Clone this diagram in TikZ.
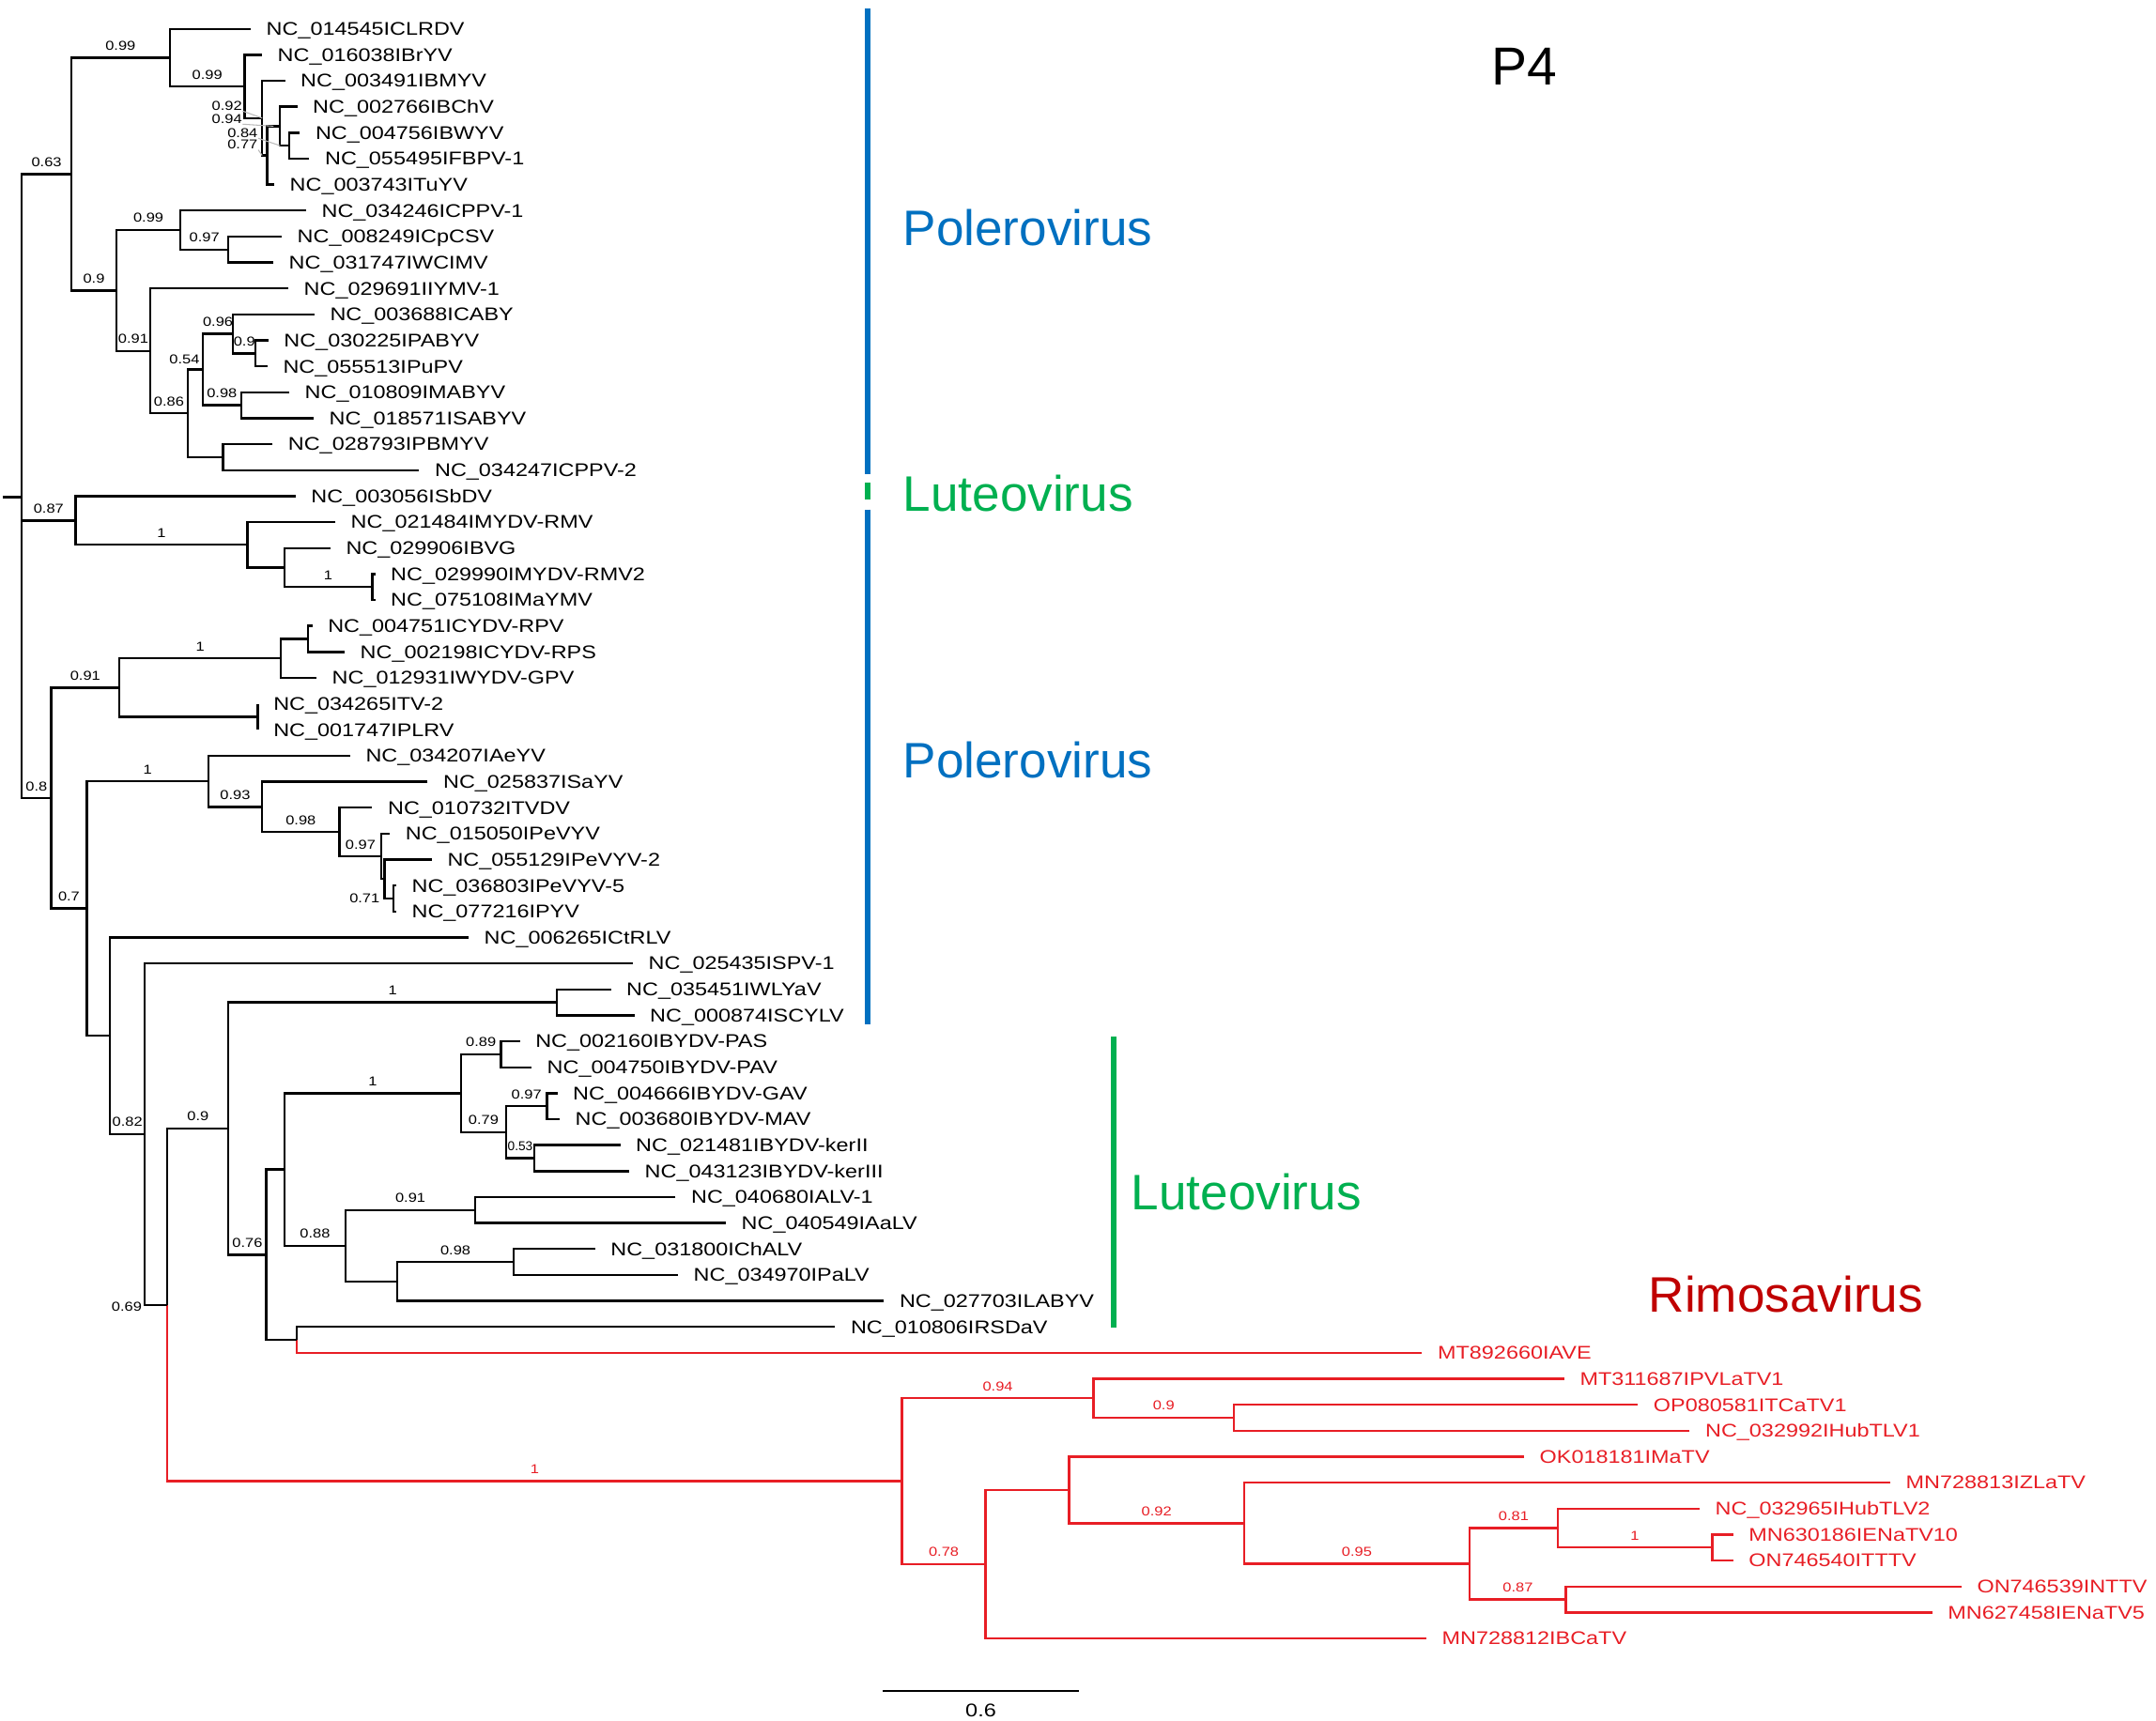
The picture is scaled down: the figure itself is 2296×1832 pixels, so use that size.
\documentclass[tikz,border=0pt]{standalone}
\usepackage{fontspec}
\usetikzlibrary{calc}
\newfontfamily\leaffont[FakeStretch=1.2]{Liberation Sans}
\newfontfamily\plainfont{Liberation Sans}
\definecolor{pblue}{RGB}{0,112,192}
\definecolor{lgreen}{RGB}{0,176,80}
\definecolor{rimo}{RGB}{192,0,0}
\definecolor{tred}{RGB}{232,30,37}
\tikzset{
  tree/.style={line width=0.68pt, line join=miter},
  redtree/.style={tree, draw=tred},
  leaf/.style={anchor=base west, inner sep=0pt, xshift=0.16cm, yshift=-1.95pt,
    font={\leaffont\fontsize{5.55pt}{6pt}\selectfont}},
  rleaf/.style={leaf, text=tred},
  blab/.style={anchor=base, inner sep=0pt, yshift=0.08cm,
    font={\leaffont\fontsize{3.9pt}{4.5pt}\selectfont}},
  rblab/.style={blab, text=tred},
  blabc/.style={anchor=center, inner sep=0pt,
    font={\leaffont\fontsize{3.9pt}{4.5pt}\selectfont}},
  leader/.style={draw=gray!55, line width=0.3pt},
  bar/.style={line width=1.7pt},
  genus/.style={anchor=base west, inner sep=0pt, font={\plainfont\fontsize{15.1pt}{17pt}\selectfont}},
}
\newcommand\leaf[5][leaf]{\coordinate (#2) at (#3,#4); \node[#1] (t#2) at (#2) {#5};}
\newcommand\inode[4]{\coordinate (#1m) at ($(#3)!0.5!(#4)$); \coordinate (#1) at (#2,0 |- #1m);}
\newcommand\kids[4][tree]{\draw[#1] (#3) -| (#2); \draw[#1] (#4) -| (#2);}
\newcommand\blab[4][blab]{\node[#1] (lb#2) at ($(#2)!0.5!(#3 |- #2)$) {#4};}
\begin{document}
\begin{tikzpicture}[x=0.01cm, y=-0.01cm]
\fill[white] (0,0) rectangle (2296,1832);
\useasboundingbox (0,0) rectangle (2296,1832);
% ---------- leaves ----------
\leaf{l1}{267}{30.7}{NC\_014545ICLRDV}
\leaf{l2}{279}{58.35}{NC\_016038IBrYV}
\leaf{l3}{303.5}{86}{NC\_003491IBMYV}
\leaf{l4}{316.5}{113.65}{NC\_002766IBChV}
\leaf{l5}{319.3}{141.3}{NC\_004756IBWYV}
\leaf{l6}{329.4}{168.95}{NC\_055495IFBPV-1}
\leaf{l7}{292}{196.6}{NC\_003743ITuYV}
\leaf{l8}{325.9}{224.25}{NC\_034246ICPPV-1}
\leaf{l9}{300}{251.9}{NC\_008249ICpCSV}
\leaf{l10}{291}{279.55}{NC\_031747IWCIMV}
\leaf{l11}{307}{307.2}{NC\_029691IIYMV-1}
\leaf{l12}{334.8}{334.85}{NC\_003688ICABY}
\leaf{l13}{285.7}{362.5}{NC\_030225IPABYV}
\leaf{l14}{284.8}{390.15}{NC\_055513IPuPV}
\leaf{l15}{308}{417.8}{NC\_010809IMABYV}
\leaf{l16}{334}{445.45}{NC\_018571ISABYV}
\leaf{l17}{290.2}{473.1}{NC\_028793IPBMYV}
\leaf{l18}{446.4}{500.75}{NC\_034247ICPPV-2}
\leaf{l19}{314.7}{528.4}{NC\_003056ISbDV}
\leaf{l20}{357}{556.05}{NC\_021484IMYDV-RMV}
\leaf{l21}{351.8}{583.7}{NC\_029906IBVG}
\leaf{l22}{399.5}{611.35}{NC\_029990IMYDV-RMV2}
\leaf{l23}{399.5}{639}{NC\_075108IMaYMV}
\leaf{l24}{332.6}{666.65}{NC\_004751ICYDV-RPV}
\leaf{l25}{367}{694.3}{NC\_002198ICYDV-RPS}
\leaf{l26}{337}{721.95}{NC\_012931IWYDV-GPV}
\leaf{l27}{274.6}{749.6}{NC\_034265ITV-2}
\leaf{l28}{274.6}{777.25}{NC\_001747IPLRV}
\leaf{l29}{372.8}{804.9}{NC\_034207IAeYV}
\leaf{l30}{455.4}{832.55}{NC\_025837ISaYV}
\leaf{l31}{396.4}{860.2}{NC\_010732ITVDV}
\leaf{l32}{415.2}{887.85}{NC\_015050IPeVYV}
\leaf{l33}{459.8}{915.5}{NC\_055129IPeVYV-2}
\leaf{l34}{421.9}{943.15}{NC\_036803IPeVYV-5}
\leaf{l35}{421.9}{970.8}{NC\_077216IPYV}
\leaf{l36}{499}{998.45}{NC\_006265ICtRLV}
\leaf{l37}{674}{1026.1}{NC\_025435ISPV-1}
\leaf{l38}{650.5}{1053.75}{NC\_035451IWLYaV}
\leaf{l39}{675.5}{1081.4}{NC\_000874ISCYLV}
\leaf{l40}{553.6}{1109.05}{NC\_002160IBYDV-PAS}
\leaf{l41}{566}{1136.7}{NC\_004750IBYDV-PAV}
\leaf{l42}{593.5}{1164.35}{NC\_004666IBYDV-GAV}
\leaf{l43}{596}{1192}{NC\_003680IBYDV-MAV}
\leaf{l44}{660.5}{1219.65}{NC\_021481IBYDV-kerII}
\leaf{l45}{670}{1247.3}{NC\_043123IBYDV-kerIII}
\leaf{l46}{719.4}{1274.95}{NC\_040680IALV-1}
\leaf{l47}{773}{1302.6}{NC\_040549IAaLV}
\leaf{l48}{633.7}{1330.25}{NC\_031800IChALV}
\leaf{l49}{722}{1357.9}{NC\_034970IPaLV}
\leaf{l50}{941.3}{1385.55}{NC\_027703ILABYV}
\leaf{l51}{889.3}{1413.2}{NC\_010806IRSDaV}
\leaf[rleaf]{l52}{1514.4}{1440.85}{MT892660IAVE}
\leaf[rleaf]{l53}{1665.8}{1468.5}{MT311687IPVLaTV1}
\leaf[rleaf]{l54}{1744.2}{1496.15}{OP080581ITCaTV1}
\leaf[rleaf]{l55}{1799.4}{1523.8}{NC\_032992IHubTLV1}
\leaf[rleaf]{l56}{1623}{1551.45}{OK018181IMaTV}
\leaf[rleaf]{l57}{2013}{1579.1}{MN728813IZLaTV}
\leaf[rleaf]{l58}{1810}{1606.75}{NC\_032965IHubTLV2}
\leaf[rleaf]{l59}{1845.7}{1634.4}{MN630186IENaTV10}
\leaf[rleaf]{l60}{1845.7}{1662.05}{ON746540ITTTV}
\leaf[rleaf]{l61}{2088.8}{1689.7}{ON746539INTTV}
\leaf[rleaf]{l62}{2057.6}{1717.35}{MN627458IENaTV5}
\leaf[rleaf]{l63}{1518.9}{1745}{MN728812IBCaTV}
% ---------- internal nodes ----------
\inode{nF}{308.2}{l5}{l6}
\inode{nE}{298.3}{l4}{nF}
\inode{nD}{284.5}{nE}{l7}
\inode{nC}{279.2}{l3}{nD}
\inode{nB}{260.5}{l2}{nC}
\inode{nA}{180.8}{l1}{nB}
\inode{nI}{243.3}{l9}{l10}
\inode{nG}{192}{l8}{nI}
\inode{nO}{272.3}{l13}{l14}
\inode{nM}{248.2}{l12}{nO}
\inode{nN}{256.7}{l15}{l16}
\inode{nK}{216}{nM}{nN}
\inode{nL}{237.5}{l17}{l18}
\inode{nJ}{200}{nK}{nL}
\inode{nH}{159.8}{l11}{nJ}
\inode{nNN}{124.1}{nG}{nH}
\inode{nTop}{75.9}{nA}{nNN}
\inode{nR}{396.4}{l22}{l23}
\inode{nQ}{302.7}{l21}{nR}
\inode{nP}{263.4}{l20}{nQ}
\inode{nMid}{80.4}{l19}{nP}
\inode{nW}{328.1}{l24}{l25}
\inode{nU}{299.1}{nW}{l26}
\inode{nV}{274.6}{l27}{l28}
\inode{nS}{127.2}{nU}{nV}
\inode{nAD}{418.8}{l34}{l35}
\inode{nAC}{409.4}{l33}{nAD}
\inode{nAB}{406.3}{l32}{nAC}
\inode{nAA}{361.6}{l31}{nAB}
\inode{nZ}{279}{l30}{nAA}
\inode{nX}{221.9}{l29}{nZ}
\inode{yA}{592.9}{l38}{l39}
\inode{yC}{533.5}{l40}{l41}
\inode{yE}{582.6}{l42}{l43}
\inode{yF}{569.2}{l44}{l45}
\inode{yD}{538.8}{yE}{yF}
\inode{yB}{491}{yC}{yD}
\inode{yG}{505.8}{l46}{l47}
\inode{yI}{546.9}{l48}{l49}
\inode{yH}{423.2}{yI}{l50}
\inode{yJ}{368.3}{yG}{yH}
\inode{yK}{302.7}{yB}{yJ}
\inode{yL}{315.7}{l51}{l52}
\inode{yM}{283.5}{yK}{yL}
\inode{yN}{243.3}{yA}{yM}
\inode{rC}{1314}{l54}{l55}
\inode{rA}{1164.5}{l53}{rC}
\inode{rI}{1823.4}{l59}{l60}
\inode{rG}{1658.7}{l58}{rI}
\inode{rH}{1667.6}{l61}{l62}
\inode{rF}{1565.2}{rG}{rH}
\inode{rE}{1324.8}{l57}{rF}
\inode{rD}{1138.6}{l56}{rE}
\inode{rB}{1049.6}{rD}{l63}
\inode{rR}{960.6}{rA}{rB}
\inode{yO}{178.3}{yN}{rR}
\inode{yP}{154.3}{l37}{yO}
\inode{yQ}{117}{l36}{yP}
\inode{nT}{92.4}{nX}{yQ}
\inode{nBot}{54.5}{nS}{nT}
\coordinate (root) at (23.2,529.5);
\coordinate (rootstub) at (3,529.5);
% ---------- branches ----------
\kids{nF}{l5}{l6}
\kids{nE}{l4}{nF}
\kids{nD}{nE}{l7}
\kids{nC}{l3}{nD}
\kids{nB}{l2}{nC}
\kids{nA}{l1}{nB}
\kids{nI}{l9}{l10}
\kids{nG}{l8}{nI}
\kids{nO}{l13}{l14}
\kids{nM}{l12}{nO}
\kids{nN}{l15}{l16}
\kids{nK}{nM}{nN}
\kids{nL}{l17}{l18}
\kids{nJ}{nK}{nL}
\kids{nH}{l11}{nJ}
\kids{nNN}{nG}{nH}
\kids{nTop}{nA}{nNN}
\kids{nR}{l22}{l23}
\kids{nQ}{l21}{nR}
\kids{nP}{l20}{nQ}
\kids{nMid}{l19}{nP}
\kids{nW}{l24}{l25}
\kids{nU}{nW}{l26}
\kids{nV}{l27}{l28}
\kids{nS}{nU}{nV}
\kids{nAD}{l34}{l35}
\kids{nAC}{l33}{nAD}
\kids{nAB}{l32}{nAC}
\kids{nAA}{l31}{nAB}
\kids{nZ}{l30}{nAA}
\kids{nX}{l29}{nZ}
\kids{yA}{l38}{l39}
\kids{yC}{l40}{l41}
\kids{yE}{l42}{l43}
\kids{yF}{l44}{l45}
\kids{yD}{yE}{yF}
\kids{yB}{yC}{yD}
\kids{yG}{l46}{l47}
\kids{yI}{l48}{l49}
\kids{yH}{yI}{l50}
\kids{yJ}{yG}{yH}
\kids{yK}{yB}{yJ}
\draw[tree] (l51) -| (yL);
\draw[redtree] (l52) -| (yL);
\kids{yM}{yK}{yL}
\kids{yN}{yA}{yM}
\kids[redtree]{rC}{l54}{l55}
\kids[redtree]{rA}{l53}{rC}
\kids[redtree]{rI}{l59}{l60}
\kids[redtree]{rG}{l58}{rI}
\kids[redtree]{rH}{l61}{l62}
\kids[redtree]{rF}{rG}{rH}
\kids[redtree]{rE}{l57}{rF}
\kids[redtree]{rD}{l56}{rE}
\kids[redtree]{rB}{rD}{l63}
\kids[redtree]{rR}{rA}{rB}
\draw[tree] (yN) -| (yO);
\draw[redtree] (rR) -| (yO);
\kids{yP}{l37}{yO}
\kids{yQ}{l36}{yP}
\kids{nT}{nX}{yQ}
\kids{nBot}{nS}{nT}
\draw[tree] (nTop) -| (root);
\draw[tree] (nBot) -| (root);
\draw[tree] (nMid) -| (root);
\draw[tree] (rootstub) -- (root);
% ---------- support values ----------
\blab{nA}{nTop}{0.99}
\blab{nB}{nA}{0.99}
\node[blabc] (lbnC) at (241.7,112.7) {0.92};
\node[blabc] (lbnE) at (241.7,126.7) {0.94};
\node[blabc] (lbnF) at (258.3,141.7) {0.84};
\node[blabc] (lbnD) at (258.3,154) {0.77};
\draw[leader] (lbnC.south east) -- (nC);
\draw[leader] (lbnE.south east) -- ($(nE)!0.5!(nD |- nE)$);
\draw[leader] (lbnF.south east) -- (nE |- nF);
\draw[leader] (lbnD.south east) -- (nC |- nD);
\blab{nTop}{root}{0.63}
\blab{nNN}{nTop}{0.9}
\blab{nG}{nNN}{0.99}
\blab{nI}{nG}{0.97}
\blab{nH}{nNN}{0.91}
\blab{nJ}{nH}{0.86}
\node[blabc] (lbnK) at (196.4,383) {0.54};
\blab{nM}{nK}{0.96}
\blab{nO}{nM}{0.9}
\blab{nN}{nK}{0.98}
\blab{nMid}{root}{0.87}
\blab{nP}{nMid}{1}
\blab{nR}{nQ}{1}
\blab{nBot}{root}{0.8}
\blab{nS}{nBot}{0.91}
\blab{nU}{nS}{1}
\blab{nT}{nBot}{0.7}
\blab{nX}{nT}{1}
\blab{nZ}{nX}{0.93}
\blab{nAA}{nZ}{0.98}
\blab{nAB}{nAA}{0.97}
\node[blabc, anchor=east] (lbnAD) at (405,957) {0.71};
\blab{yP}{yQ}{0.82}
\node[blabc, anchor=east] (lbyO) at (151.7,1391.7) {0.69};
\blab{yN}{yO}{0.9}
\blab{yA}{yN}{1}
\blab{yM}{yN}{0.76}
\blab{yB}{yK}{1}
\blab{yC}{yB}{0.89}
\blab{yD}{yB}{0.79}
\blab{yE}{yD}{0.97}
\blab[blab, font={\plainfont\fontsize{3.9pt}{4.5pt}\selectfont}]{yF}{yD}{0.53}
\blab{yJ}{yK}{0.88}
\blab{yG}{yJ}{0.91}
\blab{yI}{yH}{0.98}
\blab[rblab]{rR}{yO}{1}
\blab[rblab]{rA}{rR}{0.94}
\blab[rblab]{rC}{rA}{0.9}
\blab[rblab]{rB}{rR}{0.78}
\blab[rblab]{rE}{rD}{0.92}
\blab[rblab]{rF}{rE}{0.95}
\blab[rblab]{rG}{rF}{0.81}
\blab[rblab]{rI}{rG}{1}
\blab[rblab]{rH}{rF}{0.87}
% ---------- scale bar ----------
\coordinate (sbA) at (940,1801);
\coordinate (sbB) at (1149,1801);
\draw[tree] (sbA) -- (sbB);
\node[anchor=base, inner sep=0pt, font={\leaffont\fontsize{5.55pt}{6pt}\selectfont}] (sblab) at (1044.5,1828) {0.6};
% ---------- clade bars ----------
\draw[bar, pblue] (924,9.3) -- (924,505);
\draw[bar, lgreen] (924,514) -- (924,532);
\draw[bar, pblue] (924,542.5) -- (924,1090.7);
\draw[bar, lgreen] (1186,1104) -- (1186,1414);
% ---------- titles ----------
\node[genus, text=pblue] (gpole1) at (961,261.7) {Polerovirus};
\node[genus, text=lgreen] (glute1) at (961,544.4) {Luteovirus};
\node[genus, text=pblue] (gpole2) at (961,828.5) {Polerovirus};
\node[genus, text=lgreen] (glute2) at (1204,1288) {Luteovirus};
\node[genus, text=rimo] (grimo) at (1755,1397) {Rimosavirus};
\node[anchor=base west, inner sep=0pt, font={\plainfont\fontsize{16.2pt}{18pt}\selectfont}] (title) at (1588,90) {P4};
\end{tikzpicture}
\end{document}
